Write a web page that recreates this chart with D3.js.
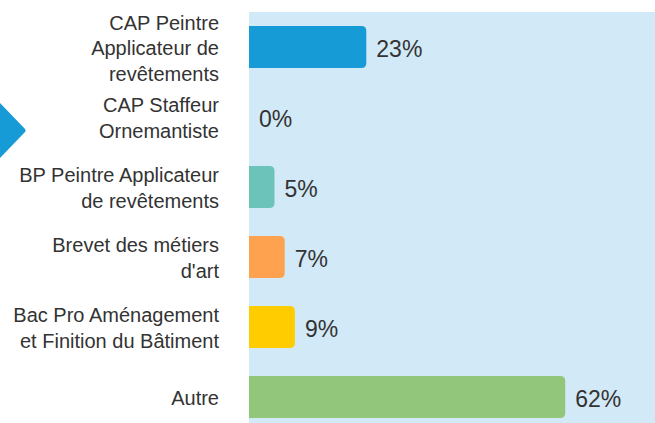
<!DOCTYPE html>
<html>
<head>
<meta charset="utf-8">
<script src="https://cdn.jsdelivr.net/npm/d3@7"></script>
<style>
  html, body { margin: 0; padding: 0; background: #ffffff; }
  svg { display: block; }
  text { font-family: "Liberation Sans", Arial, sans-serif; }
</style>
</head>
<body>
<svg id="chart" width="655" height="423"></svg>
<script>
const categories = [
  ["CAP Peintre", "Applicateur de", "revêtements"],
  ["CAP Staffeur", "Ornemantiste"],
  ["BP Peintre Applicateur", "de revêtements"],
  ["Brevet des métiers", "d'art"],
  ["Bac Pro Aménagement", "et Finition du Bâtiment"],
  ["Autre"]
];
const values = [23, 0, 5, 7, 9, 62];
const valueLabels = ["23%", "0%", "5%", "7%", "9%", "62%"];
const colors = ["#169bd7", "#169bd7", "#6cc3b9", "#ffa24f", "#ffcc00", "#92c67a"];

const W = 655, H = 423;
const plotLeft = 249, plotTop = 12, plotRight = 655, plotBottom = 432;

const svg = d3.select("#chart");

const ids = categories.map((c, i) => i);
const y = d3.scaleBand()
  .domain(ids)
  .range([plotTop, plotBottom])
  .paddingInner(0.4)
  .paddingOuter(0.2);

const x = d3.scaleLinear()
  .domain([0, 79.6])
  .range([plotLeft, plotRight]);

// plot background
svg.append("rect")
  .attr("x", plotLeft)
  .attr("y", plotTop)
  .attr("width", plotRight - plotLeft)
  .attr("height", H - plotTop)
  .attr("fill", "#d2e9f7");

// decorative arrow on the left edge
svg.append("path")
  .attr("d", "M0,103 L25,129 Q26.5,130.5 25,132 L0,158 Z")
  .attr("fill", "#169bd7");

// bars with rounded right corners
function barPath(x0, x1, y0, h, r) {
  const w = x1 - x0;
  if (w <= 0) return "";
  r = Math.min(r, w, h / 2);
  return `M${x0},${y0} H${x1 - r} Q${x1},${y0} ${x1},${y0 + r} V${y0 + h - r} Q${x1},${y0 + h} ${x1 - r},${y0 + h} H${x0} Z`;
}

svg.append("g")
  .selectAll("path")
  .data(values)
  .join("path")
  .attr("d", (d, i) => barPath(x(0), x(d), y(i), y.bandwidth(), 5))
  .attr("fill", (d, i) => colors[i]);

// value labels
svg.append("g")
  .selectAll("text")
  .data(values)
  .join("text")
  .attr("x", (d, i) => x(d) + 10)
  .attr("y", (d, i) => y(i) + y.bandwidth() / 2 + 10)
  .attr("font-size", "23px")
  .attr("fill", "#333333")
  .text((d, i) => valueLabels[i]);

// category labels
const lineH = 25.5;
const catG = svg.append("g");
categories.forEach((lines, i) => {
  const cy = y(i) + y.bandwidth() / 2;
  const t = catG.append("text")
    .attr("text-anchor", "end")
    .attr("font-size", "20px")
    .attr("fill", "#333333");
  lines.forEach((ln, j) => {
    t.append("tspan")
      .attr("x", 219)
      .attr("y", cy + 8 + (j - (lines.length - 1) / 2) * lineH)
      .text(ln);
  });
});
</script>
</body>
</html>
